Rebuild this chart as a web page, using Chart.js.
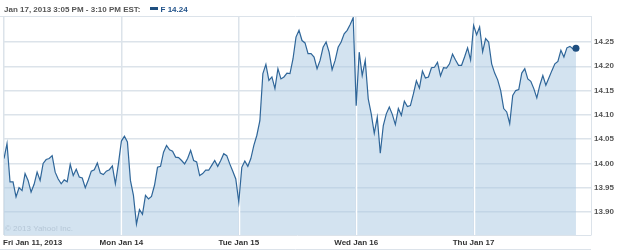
<!DOCTYPE html>
<html>
<head>
<meta charset="utf-8">
<script src="https://cdn.jsdelivr.net/npm/chart.js@4.4.1/dist/chart.umd.min.js"></script>
<style>
    html, body { margin: 0; padding: 0; background: #fff; }
    #wrap { position: relative; width: 625px; height: 252px; }
    #quote {
        position: absolute; left: 4px; top: 5px;
        font: bold 8px "Liberation Sans", Arial, sans-serif;
        color: #555; white-space: nowrap; line-height: 10px;
    }
    #quote .swatch {
        display: inline-block; width: 8px; height: 3px; background: #1f4f80;
        margin-left: 9px; vertical-align: 2px;
    }
    #quote .sym { color: #1f5189; margin-left: 3px; }
</style>
</head>
<body>
<div id="wrap">
    <canvas id="chart" width="625" height="252"></canvas>
    <div id="quote">Jan 17, 2013 3:05 PM - 3:10 PM EST:<span class="swatch"></span><span class="sym">F 14.24</span></div>
</div>
<script>
// 10-minute samples of F (Ford) per session, 9:30 onwards
const friPrices = [14.010, 14.041, 13.962, 13.962, 13.931, 13.950, 13.944, 13.979, 13.965, 13.941,
    13.957, 13.982, 13.965, 14.000, 14.008, 14.010, 14.016, 13.982, 13.968, 13.958,
    13.966, 13.962, 13.998, 13.975, 13.988, 13.972, 13.970, 13.950, 13.966, 13.984,
    13.987, 14.001, 13.980, 13.977, 13.984, 13.987, 13.995, 13.958, 13.999];
const monPrices = [14.046, 14.056, 14.044, 13.965, 13.934, 13.875, 13.905, 13.895, 13.934, 13.927,
    13.932, 13.955, 13.992, 13.994, 14.023, 14.037, 14.028, 14.025, 14.013, 14.012,
    14.006, 13.999, 14.010, 14.027, 14.006, 14.003, 13.975, 13.979, 13.986, 13.986,
    13.996, 14.006, 13.994, 14.006, 14.020, 14.016, 13.999, 13.984, 13.968];
const tuePrices = [13.920, 13.992, 14.005, 13.994, 14.010, 14.037, 14.058, 14.088, 14.185, 14.204,
    14.171, 14.178, 14.154, 14.195, 14.174, 14.178, 14.186, 14.185, 14.215, 14.260,
    14.274, 14.253, 14.248, 14.226, 14.226, 14.219, 14.195, 14.212, 14.239, 14.250,
    14.229, 14.193, 14.212, 14.239, 14.250, 14.267, 14.274, 14.286, 14.300];
const wedPrices = [14.119, 14.229, 14.181, 14.212, 14.133, 14.102, 14.062, 14.095, 14.021, 14.078,
    14.102, 14.116, 14.101, 14.080, 14.113, 14.099, 14.128, 14.117, 14.119, 14.143,
    14.170, 14.155, 14.190, 14.176, 14.178, 14.197, 14.198, 14.208, 14.180, 14.197,
    14.196, 14.205, 14.225, 14.213, 14.202, 14.202, 14.219, 14.238, 14.213];
const thuPrices = [14.284, 14.265, 14.281, 14.230, 14.257, 14.250, 14.205, 14.186, 14.172, 14.150,
    14.113, 14.106, 14.082, 14.140, 14.150, 14.152, 14.186, 14.195, 14.174, 14.169,
    14.154, 14.135, 14.161, 14.181, 14.161, 14.176, 14.191, 14.205, 14.210, 14.233,
    14.219, 14.238, 14.241, 14.236, 14.237];

const dayLabels = ['Fri Jan 11, 2013', 'Mon Jan 14', 'Tue Jan 15', 'Wed Jan 16', 'Thu Jan 17'];
const yTicks = [13.90, 13.95, 14.00, 14.05, 14.10, 14.15, 14.20, 14.25];

const slotsPerDay = 39;
const days = [friPrices, monPrices, tuePrices, wedPrices, thuPrices];
const dayStarts = days.map((d, i) => i * slotsPerDay);

const points = [];
days.forEach((prices, d) => {
    prices.forEach((v, k) => points.push({ x: d * slotsPerDay + k, y: v }));
});

const gridColor = '#dce3ea';
const labelFont = 'bold 8px "Liberation Sans", Arial, sans-serif';

const framePlugin = {
    id: 'frame',
    // white day separators inside the shaded area (filler has already drawn)
    beforeDatasetsDraw(chart) {
        const { ctx, chartArea, scales } = chart;
        const pts = chart.getDatasetMeta(0).data;
        ctx.save();
        ctx.beginPath();
        ctx.moveTo(pts[0].x, chartArea.bottom);
        pts.forEach(p => ctx.lineTo(p.x, p.y));
        ctx.lineTo(pts[pts.length - 1].x, chartArea.bottom);
        ctx.closePath();
        ctx.clip();
        ctx.strokeStyle = '#ffffff';
        ctx.lineWidth = 1.5;
        dayStarts.slice(1).forEach(v => {
            const x = Math.round(scales.x.getPixelForValue(v)) + 0.5;
            ctx.beginPath();
            ctx.moveTo(x, chartArea.top);
            ctx.lineTo(x, chartArea.bottom);
            ctx.stroke();
        });
        ctx.restore();
    },
    afterDraw(chart) {
        const { ctx, chartArea, scales } = chart;
        ctx.save();
        ctx.strokeStyle = gridColor;
        ctx.lineWidth = 1;
        ctx.beginPath();
        ctx.moveTo(0, chartArea.top + 0.5);
        ctx.lineTo(chartArea.right, chartArea.top + 0.5);
        ctx.moveTo(chartArea.left, chartArea.bottom + 0.5);
        ctx.lineTo(chartArea.right, chartArea.bottom + 0.5);
        ctx.moveTo(0, 249.5);
        ctx.lineTo(chartArea.right, 249.5);
        ctx.stroke();

        ctx.font = labelFont;
        ctx.fillStyle = '#333';
        ctx.textBaseline = 'middle';
        dayLabels.forEach((label, i) => {
            const x = scales.x.getPixelForValue(dayStarts[i]);
            ctx.textAlign = i === 0 ? 'left' : 'center';
            ctx.fillText(label, i === 0 ? 3 : x, 243);
        });

        ctx.font = '8px "Liberation Sans", Arial, sans-serif';
        ctx.fillStyle = '#b6c7d7';
        ctx.textAlign = 'left';
        ctx.fillText('\u00a9 2013 Yahoo! Inc.', 5, 229);
        ctx.restore();
    }
};

new Chart(document.getElementById('chart'), {
    type: 'line',
    data: {
        datasets: [{
            data: points,
            borderColor: '#2f6699',
            borderWidth: 1.2,
            backgroundColor: 'rgba(168, 200, 226, 0.5)',
            fill: 'start',
            tension: 0,
            pointRadius: c => (c.dataIndex === points.length - 1 ? 3.5 : 0),
            pointBackgroundColor: '#1f4f80',
            pointBorderWidth: 0
        }]
    },
    options: {
        responsive: false,
        animation: false,
        layout: { padding: { left: 2, top: 16, right: 0, bottom: 0 } },
        plugins: {
            legend: { display: false },
            tooltip: { enabled: false },
            filler: { drawTime: 'beforeDatasetsDraw' }
        },
        scales: {
            x: {
                type: 'linear',
                min: 0,
                max: 5 * slotsPerDay,
                afterBuildTicks: s => { s.ticks = dayStarts.map(v => ({ value: v })); },
                afterFit: s => { s.height = 17; },
                grid: { color: gridColor, lineWidth: 1.5, drawTicks: false },
                border: { display: false },
                ticks: { display: false }
            },
            y: {
                position: 'right',
                min: 13.8526,
                max: 14.3035,
                afterBuildTicks: s => { s.ticks = yTicks.map(v => ({ value: v })); },
                afterFit: s => { s.width = 34; },
                grid: { color: gridColor, lineWidth: 1.5, drawTicks: false },
                border: { display: true, color: gridColor },
                ticks: {
                    padding: 3,
                    color: '#555',
                    font: { family: '"Liberation Sans", Arial, sans-serif', size: 8, weight: 'bold' },
                    callback: v => v.toFixed(2)
                }
            }
        }
    },
    plugins: [framePlugin]
});
</script>
</body>
</html>
